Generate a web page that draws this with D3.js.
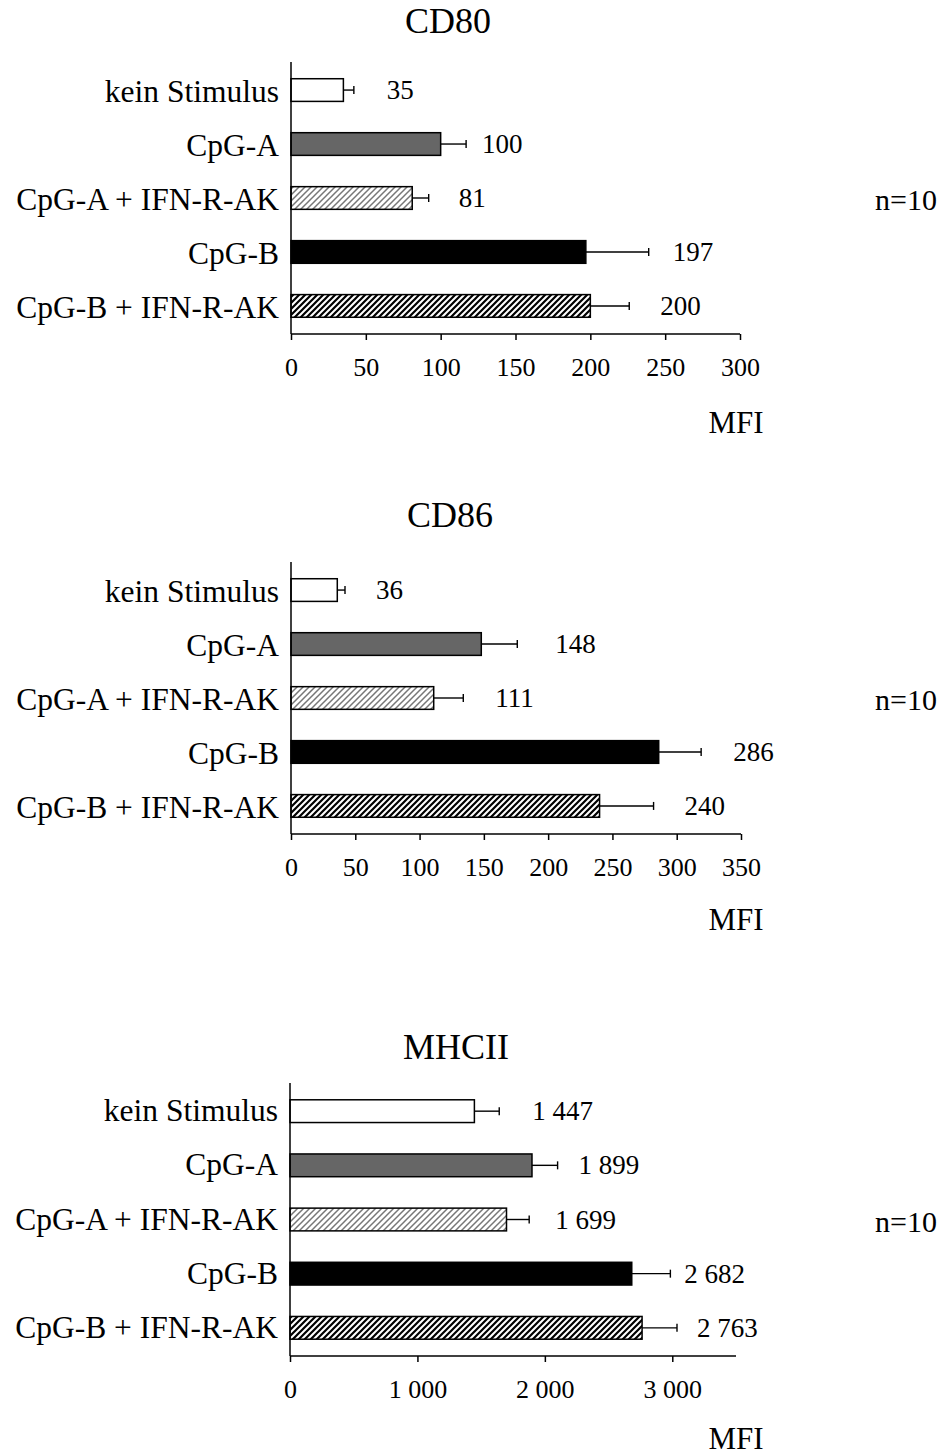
<!DOCTYPE html>
<html>
<head>
<meta charset="utf-8">
<script src="https://cdn.jsdelivr.net/npm/d3@7/dist/d3.min.js"></script>
<style>
  html, body { margin: 0; padding: 0; background: #fff; }
  svg { display: block; }
  text { font-family: "Liberation Serif", "Times New Roman", serif; fill: #000; }
</style>
</head>
<body>
<svg id="chart" width="944" height="1456"></svg>
<script>
// ---------- data ----------
const categories = ["kein Stimulus", "CpG-A", "CpG-A + IFN-R-AK", "CpG-B", "CpG-B + IFN-R-AK"];
const titles = ["CD80", "CD86", "MHCII"];
const cd80Values = [35, 100, 81, 197, 200];
const cd80Errors = [7, 17, 11, 42, 26];
const cd86Values = [36, 148, 111, 286, 240];
const cd86Errors = [6, 28, 23, 33, 42];
const mhciiValues = [1447, 1899, 1699, 2682, 2763];
const mhciiErrors = [195, 201, 178, 303, 274];
const cd80Ticks = [0, 50, 100, 150, 200, 250, 300];
const cd86Ticks = [0, 50, 100, 150, 200, 250, 300, 350];
const mhciiTicks = [0, 1000, 2000, 3000];
const axisMax = [300, 350, 3500];
const axisLabel = "MFI";
const nLabel = "n=10";

// ---------- layout ----------
const layout = [
  { top: 62,   axisY: 334,  x0: 291, x1: 740, titleX: 448, titleY: 33,   mfiY: 433,  nY: 210,  labelDy: 2, gaps: [33, 16, 30, 24, 31] },
  { top: 562,  axisY: 834,  x0: 291, x1: 741, titleX: 450, titleY: 527,  mfiY: 930,  nY: 710,  labelDy: 2, gaps: [31, 38, 32, 32, 31] },
  { top: 1083, axisY: 1356, x0: 290, x1: 736, titleX: 456, titleY: 1059, mfiY: 1449, nY: 1232, labelDy: 0, gaps: [33, 21, 26, 14, 20] }
];
const fills = ["#ffffff", "#666666", "url(#hatchLight)", "#000000", "url(#hatchDark)"];

const fmt = d3.formatLocale({ decimal: ",", thousands: " ", grouping: [3], currency: ["", ""] }).format(",d");

const svg = d3.select("#chart");
const defs = svg.append("defs");
function hatch(id, color, w) {
  const p = defs.append("pattern").attr("id", id)
    .attr("patternUnits", "userSpaceOnUse").attr("width", 6).attr("height", 6);
  p.append("rect").attr("width", 6).attr("height", 6).attr("fill", "#fff");
  p.append("path").attr("d", "M0,6 L6,0 M-1,1 L1,-1 M5,7 L7,5")
    .attr("stroke", color).attr("stroke-width", w).attr("stroke-linecap", "square");
}
hatch("hatchLight", "#777777", 1.5);
hatch("hatchDark", "#000000", 2.2);

const charts = [
  { values: cd80Values, errors: cd80Errors, ticks: cd80Ticks },
  { values: cd86Values, errors: cd86Errors, ticks: cd86Ticks },
  { values: mhciiValues, errors: mhciiErrors, ticks: mhciiTicks }
];

charts.forEach((c, i) => {
  const L = layout[i];
  const g = svg.append("g");
  const x = d3.scaleLinear().domain([0, axisMax[i]]).range([L.x0, L.x1]);
  const y = d3.scaleBand().domain(categories).range([L.top, L.axisY])
    .paddingInner(0.58).paddingOuter(0.31);
  const rows = categories.map((cat, k) => ({ cat, v: c.values[k], e: c.errors[k], k }));

  // title
  g.append("text").attr("x", L.titleX).attr("y", L.titleY)
    .attr("text-anchor", "middle").attr("font-size", 36).text(titles[i]);

  // bars
  g.selectAll("rect.bar").data(rows).join("rect").attr("class", "bar")
    .attr("x", x(0)).attr("y", d => y(d.cat))
    .attr("width", d => x(d.v) - x(0)).attr("height", y.bandwidth())
    .attr("fill", d => fills[d.k]).attr("stroke", "#000").attr("stroke-width", 1.5);

  // error bars
  const eb = g.selectAll("g.err").data(rows).join("g").attr("class", "err");
  eb.append("line")
    .attr("x1", d => x(d.v)).attr("x2", d => x(d.v + d.e))
    .attr("y1", d => y(d.cat) + y.bandwidth() / 2).attr("y2", d => y(d.cat) + y.bandwidth() / 2)
    .attr("stroke", "#000").attr("stroke-width", 1.4);
  eb.append("line")
    .attr("x1", d => x(d.v + d.e)).attr("x2", d => x(d.v + d.e))
    .attr("y1", d => y(d.cat) + y.bandwidth() / 2 - 4).attr("y2", d => y(d.cat) + y.bandwidth() / 2 + 4)
    .attr("stroke", "#000").attr("stroke-width", 1.4);

  // value labels
  g.selectAll("text.val").data(rows).join("text").attr("class", "val")
    .attr("x", d => x(d.v + d.e) + L.gaps[d.k])
    .attr("y", d => y(d.cat) + y.bandwidth() / 2 + 9)
    .attr("font-size", 27).text(d => fmt(d.v));

  // category labels
  g.selectAll("text.cat").data(rows).join("text").attr("class", "cat")
    .attr("x", L.x0 - 12)
    .attr("y", d => y(d.cat) + y.bandwidth() / 2 + 10 + L.labelDy)
    .attr("text-anchor", "end").attr("font-size", 31.5).text(d => d.cat);

  // y axis line
  g.append("line").attr("x1", L.x0).attr("x2", L.x0).attr("y1", L.top).attr("y2", L.axisY)
    .attr("stroke", "#000").attr("stroke-width", 1.5);

  // x axis
  const ax = g.append("g").attr("transform", `translate(0,${L.axisY})`)
    .call(d3.axisBottom(x).tickValues(c.ticks).tickSize(6).tickPadding(10).tickFormat(fmt));
  ax.select(".domain").attr("d", `M${L.x0},0H${L.x1}`).attr("stroke-width", 1.5);
  ax.selectAll(".tick line").attr("stroke-width", 1.5);
  ax.selectAll(".tick text").attr("font-size", 26).attr("font-family", "Liberation Serif")
    .attr("dy", null).attr("y", 42).attr("fill", "#000");

  // MFI
  g.append("text").attr("x", 736).attr("y", L.mfiY).attr("text-anchor", "middle")
    .attr("font-size", 31).text(axisLabel);
  // n=10
  g.append("text").attr("x", 906).attr("y", L.nY).attr("text-anchor", "middle")
    .attr("font-size", 30).text(nLabel);
});
</script>
</body>
</html>
